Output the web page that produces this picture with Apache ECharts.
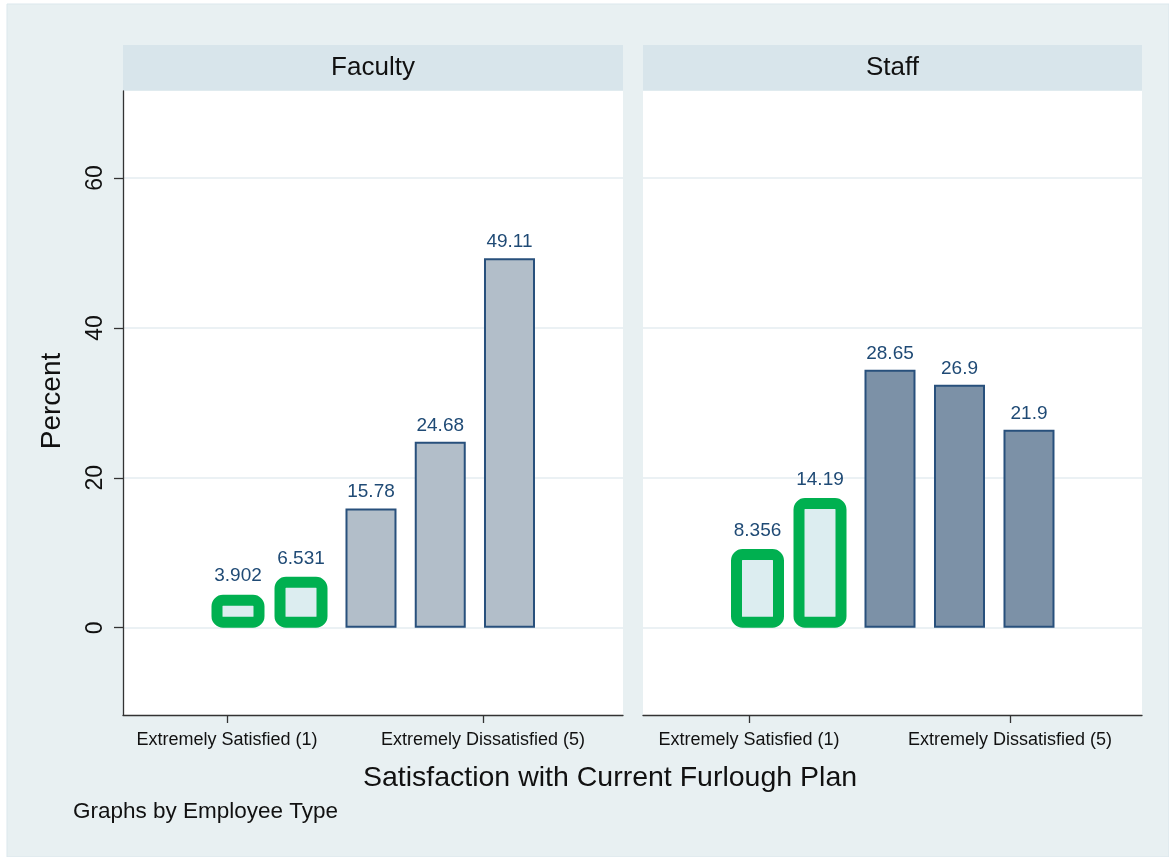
<!DOCTYPE html>
<html>
<head>
<meta charset="utf-8">
<script src="https://cdn.jsdelivr.net/npm/echarts@6/dist/echarts.min.js"></script>
<style>
  html, body { margin: 0; padding: 0; background: #fff; }
  #chart { width: 1169px; height: 857px; }
</style>
</head>
<body>
<div id="chart"></div>
<script>
// satisfaction levels (1 = extremely satisfied ... 5 = extremely dissatisfied)
const levels = [1, 2, 3, 4, 5];
const panels = ['Faculty', 'Staff'];
const yTicks = [0, 20, 40, 60];
const xTickValues = [1, 5];
const xTickLabels = ['Extremely Satisfied (1)', 'Extremely Dissatisfied (5)'];

// printed value labels
const facultyLabels = ['3.902', '6.531', '15.78', '24.68', '49.11'];
const staffLabels = ['8.356', '14.19', '28.65', '26.9', '21.9'];

// bar heights as drawn in the picture
const facultyHeights = [4.4, 6.8, 15.9, 24.8, 49.3];
const staffHeights = [10.5, 17.3, 34.4, 32.4, 26.4];

// levels boxed in green
const highlighted = [1, 2];

const FONT = "'Liberation Sans', Arial, sans-serif";
const labelColor = '#1f4a75';
const navy = '#28507c';

const chart = echarts.init(document.getElementById('chart'));

// per panel layout
const gridPos = [
  { left: 123, top: 91, width: 500, height: 624 },
  { left: 643, top: 91, width: 499, height: 624 }
];
const labelAxisRange = [[-0.625, 7.1875], [-0.6245, 7.023]];
const grayAxisRange = [[-0.581, 6.639], [-0.554, 6.626]];
const greenAxisRange = [[-0.825, 7.11], [-0.832, 7.152]];
const grayFill = ['#b2bec9', '#7c91a7'];

const heights = [facultyHeights, staffHeights];
const valueLabels = [facultyLabels, staffLabels];

const grids = [];
const xAxes = [];
const yAxes = [];
const series = [];

panels.forEach(function (name, p) {
  grids.push(Object.assign({
    show: true,
    backgroundColor: '#fff',
    borderWidth: 0,
    containLabel: false,
    outerBoundsMode: 'none'
  }, gridPos[p]));

  const base = xAxes.length;
  // visible axis with the two end labels
  xAxes.push({
    type: 'value',
    gridIndex: p,
    position: 'bottom',
    min: labelAxisRange[p][0],
    max: labelAxisRange[p][1],
    axisLine: { show: true, onZero: false, lineStyle: { color: '#333', width: 1.3 } },
    axisTick: { show: true, length: 8, customValues: xTickValues, lineStyle: { color: '#333', width: 1.3 } },
    axisLabel: {
      customValues: xTickValues,
      formatter: function (v) { return xTickLabels[xTickValues.indexOf(v)]; },
      fontFamily: FONT, fontSize: 18, color: '#111', margin: 16
    },
    splitLine: { show: false }
  });
  // hidden axes carrying the bars
  xAxes.push({ type: 'value', gridIndex: p, show: false, min: grayAxisRange[p][0], max: grayAxisRange[p][1], splitLine: { show: false } });
  xAxes.push({ type: 'value', gridIndex: p, show: false, min: greenAxisRange[p][0], max: greenAxisRange[p][1], splitLine: { show: false } });

  yAxes.push({
    type: 'value',
    gridIndex: p,
    min: -11.64,
    max: 71.6,
    axisLine: { show: p === 0, onZero: false, lineStyle: { color: '#333', width: 1.3 } },
    axisTick: { show: p === 0, length: 9, customValues: yTicks, lineStyle: { color: '#333', width: 1.3 } },
    axisLabel: {
      show: p === 0,
      customValues: yTicks,
      rotate: 90,
      fontFamily: FONT, fontSize: 23, color: '#111', margin: 16
    },
    splitLine: { show: true, lineStyle: { color: '#e5edf1', width: 1.5 } }
  });

  const lbl = valueLabels[p];
  const fmt = function (params) { return lbl[levels.indexOf(params.data[0])]; };

  series.push({
    type: 'bar',
    xAxisIndex: base + 1,
    yAxisIndex: p,
    barWidth: 51,
    data: levels.filter(l => highlighted.indexOf(l) < 0).map(l => [l, heights[p][levels.indexOf(l)]]),
    itemStyle: { color: grayFill[p], borderColor: navy, borderWidth: 2 },
    label: { show: true, position: 'top', distance: 7, formatter: fmt, fontFamily: FONT, fontSize: 19, color: labelColor }
  });
  series.push({
    type: 'bar',
    xAxisIndex: base + 2,
    yAxisIndex: p,
    barWidth: 53,
    data: levels.filter(l => highlighted.indexOf(l) >= 0).map(l => [l, heights[p][levels.indexOf(l)]]),
    itemStyle: { color: '#dcedf0', borderColor: '#00b050', borderWidth: 11, borderRadius: 6 },
    label: { show: true, position: 'top', distance: 9, formatter: fmt, fontFamily: FONT, fontSize: 19, color: labelColor }
  });
});

const graphics = [
  { type: 'rect', z: -100, shape: { x: 7, y: 4, width: 1162, height: 853 }, style: { fill: '#e8f0f2', stroke: '#dbe7ec', lineWidth: 1 } },
  { type: 'text', x: 52, y: 401, rotation: Math.PI / 2,
    style: { text: 'Percent', font: '28px ' + FONT, fill: '#111', align: 'center', verticalAlign: 'middle' } },
  { type: 'text', x: 610, y: 778,
    style: { text: 'Satisfaction with Current Furlough Plan', font: '28.5px ' + FONT, fill: '#111', align: 'center', verticalAlign: 'middle' } },
  { type: 'text', x: 73, y: 812,
    style: { text: 'Graphs by Employee Type', font: '22.5px ' + FONT, fill: '#111', align: 'left', verticalAlign: 'middle' } }
];
panels.forEach(function (name, p) {
  const g = gridPos[p];
  graphics.push({ type: 'rect', shape: { x: g.left, y: 45, width: g.width, height: 45.5 }, style: { fill: '#d8e5eb' } });
  graphics.push({ type: 'text', x: g.left + g.width / 2, y: 68,
    style: { text: name, font: '26px ' + FONT, fill: '#111', align: 'center', verticalAlign: 'middle' } });
});

chart.setOption({
  animation: false,
  backgroundColor: '#fff',
  grid: grids,
  xAxis: xAxes,
  yAxis: yAxes,
  series: series,
  graphic: { elements: graphics }
});
</script>
</body>
</html>
